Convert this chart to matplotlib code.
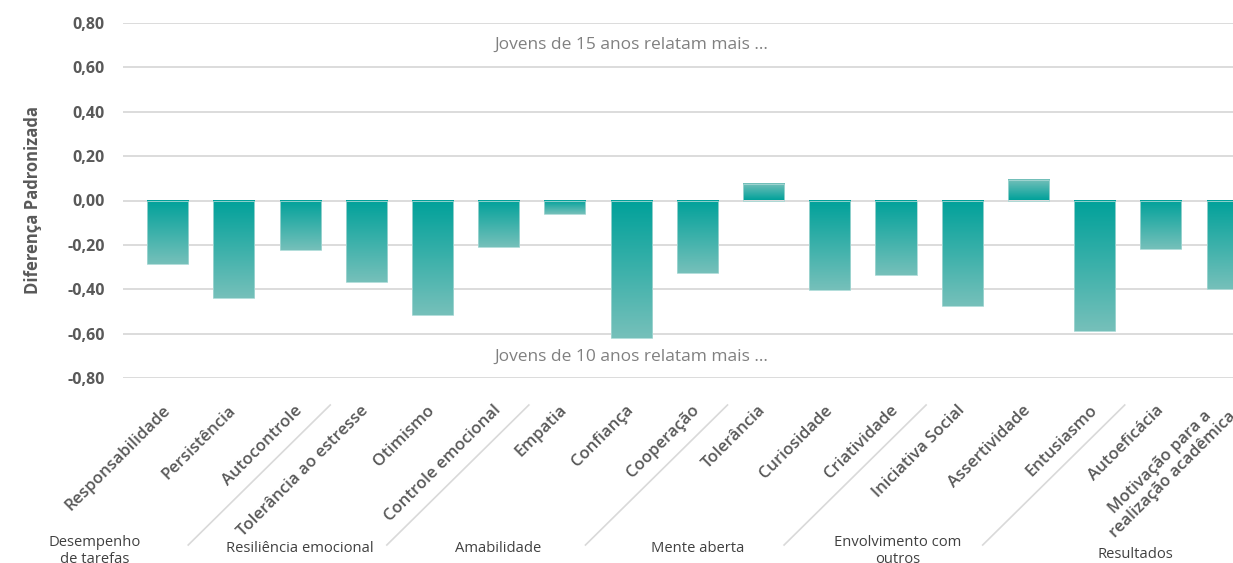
import numpy as np
import matplotlib
matplotlib.use("Agg")
import matplotlib.pyplot as plt
from matplotlib.colors import LinearSegmentedColormap
from matplotlib.lines import Line2D

# ---------------- data ----------------
categories = ["Responsabilidade", "Persistência", "Autocontrole",
              "Tolerância ao estresse", "Otimismo", "Controle emocional",
              "Empatia", "Confiança", "Cooperação",
              "Tolerância", "Curiosidade", "Criatividade",
              "Iniciativa Social", "Assertividade", "Entusiasmo",
              "Autoeficácia", "Motivação para a\nrealização acadêmica"]
values = [-0.285, -0.44, -0.224,
          -0.368, -0.515, -0.21,
          -0.063, -0.62, -0.325,
          0.075, -0.405, -0.335,
          -0.475, 0.093, -0.59,
          -0.22, -0.40]
groups = ["Desempenho\nde tarefas", "Resiliência emocional", "Amabilidade",
          "Mente aberta", "Envolvimento com\noutros", "Resultados"]
group_sizes = [3, 3, 3, 3, 3, 2]
yticks = [-0.8, -0.6, -0.4, -0.2, 0.0, 0.2, 0.4, 0.6, 0.8]
ylabel = "Diferença Padronizada"
note_top = "Jovens de 15 anos relatam mais ..."
note_bottom = "Jovens de 10 anos relatam mais ..."

# ---------------- style ----------------
plt.rcParams['font.family'] = ['Open Sans', 'DejaVu Sans']
W, H = 1233, 563
fig = plt.figure(figsize=(W / 100, H / 100), dpi=100)
ax = fig.add_axes([123 / W, 1 - 378 / H, 1 - 123 / W, (378 - 23) / H])

dark = "#00A19A"
light = "#76C0BA"
cmap = LinearSegmentedColormap.from_list("g", [dark, light])

x = np.arange(len(categories))
bars = ax.bar(x, values, width=0.62, facecolor="none", edgecolor="#a6d8d4",
              linewidth=0.6, zorder=3)
N = 256
for b, v in zip(bars, values):
    x0 = b.get_x()
    x1 = x0 + b.get_width()
    grad = np.linspace(1, 0, N) if v < 0 else np.linspace(0, 1, N)
    ax.imshow(grad.reshape(-1, 1), cmap=cmap, vmin=0, vmax=1,
              extent=[x0, x1, min(0, v), max(0, v)], origin="lower",
              aspect="auto", zorder=2, interpolation="bilinear")

ax.set_xlim(-0.675, 16.09)
ax.set_ylim(-0.8, 0.8)
ax.set_yticks(yticks)
ax.set_yticklabels([f"{t:.2f}".replace(".", ",") for t in yticks],
                   fontsize=11.5, fontweight="bold", color="#595959")
ax.tick_params(axis="y", length=0, pad=13)
ax.set_xticks([])
ax.grid(axis="y", color="#d9d9d9", linewidth=1.3, zorder=0)
for s in ax.spines.values():
    s.set_visible(False)

fig.text(33 / W, 1 - 200 / H, ylabel, rotation=90, ha="center", va="center",
         fontsize=12, fontweight="bold", color="#595959")

ax.text(7.0, 0.70, note_top, ha="center", va="center", fontsize=12.5,
        color="#808080")
ax.text(7.0, -0.705, note_bottom, ha="center", va="center", fontsize=12.5,
        color="#808080")

# category labels (rotated)
for i, lab in enumerate(categories):
    ax.text(i + 0.0, -0.935, lab, rotation=45, rotation_mode="anchor",
            ha="right", va="center", multialignment="center",
            fontsize=12, fontweight="semibold", color="#595959",
            clip_on=False, linespacing=1.1)

# group dividers and labels
fig.canvas.draw()
inv = fig.transFigure.inverted()
bounds = np.cumsum(group_sizes)[:-1] - 0.5
for bnd in bounds:
    px, _ = ax.transData.transform((bnd, 0))
    p0 = (px - 3, H - 405)
    p1 = (px - 3 - 142, H - 545)
    f0 = inv.transform(p0)
    f1 = inv.transform(p1)
    fig.add_artist(Line2D([f0[0], f1[0]], [f0[1], f1[1]],
                          transform=fig.transFigure, color="#d9d9d9", lw=1.2))

group_px = [(95, 551), (300, 549), (498, 549), (698, 549), (898, 551), (1135, 555)]
for g, (gx, gy) in zip(groups, group_px):
    fig.text(gx / W, 1 - gy / H, g, ha="center", va="center", fontsize=10.6,
             color="#404040", linespacing=1.2)

fig.savefig("out.png", dpi=100)
